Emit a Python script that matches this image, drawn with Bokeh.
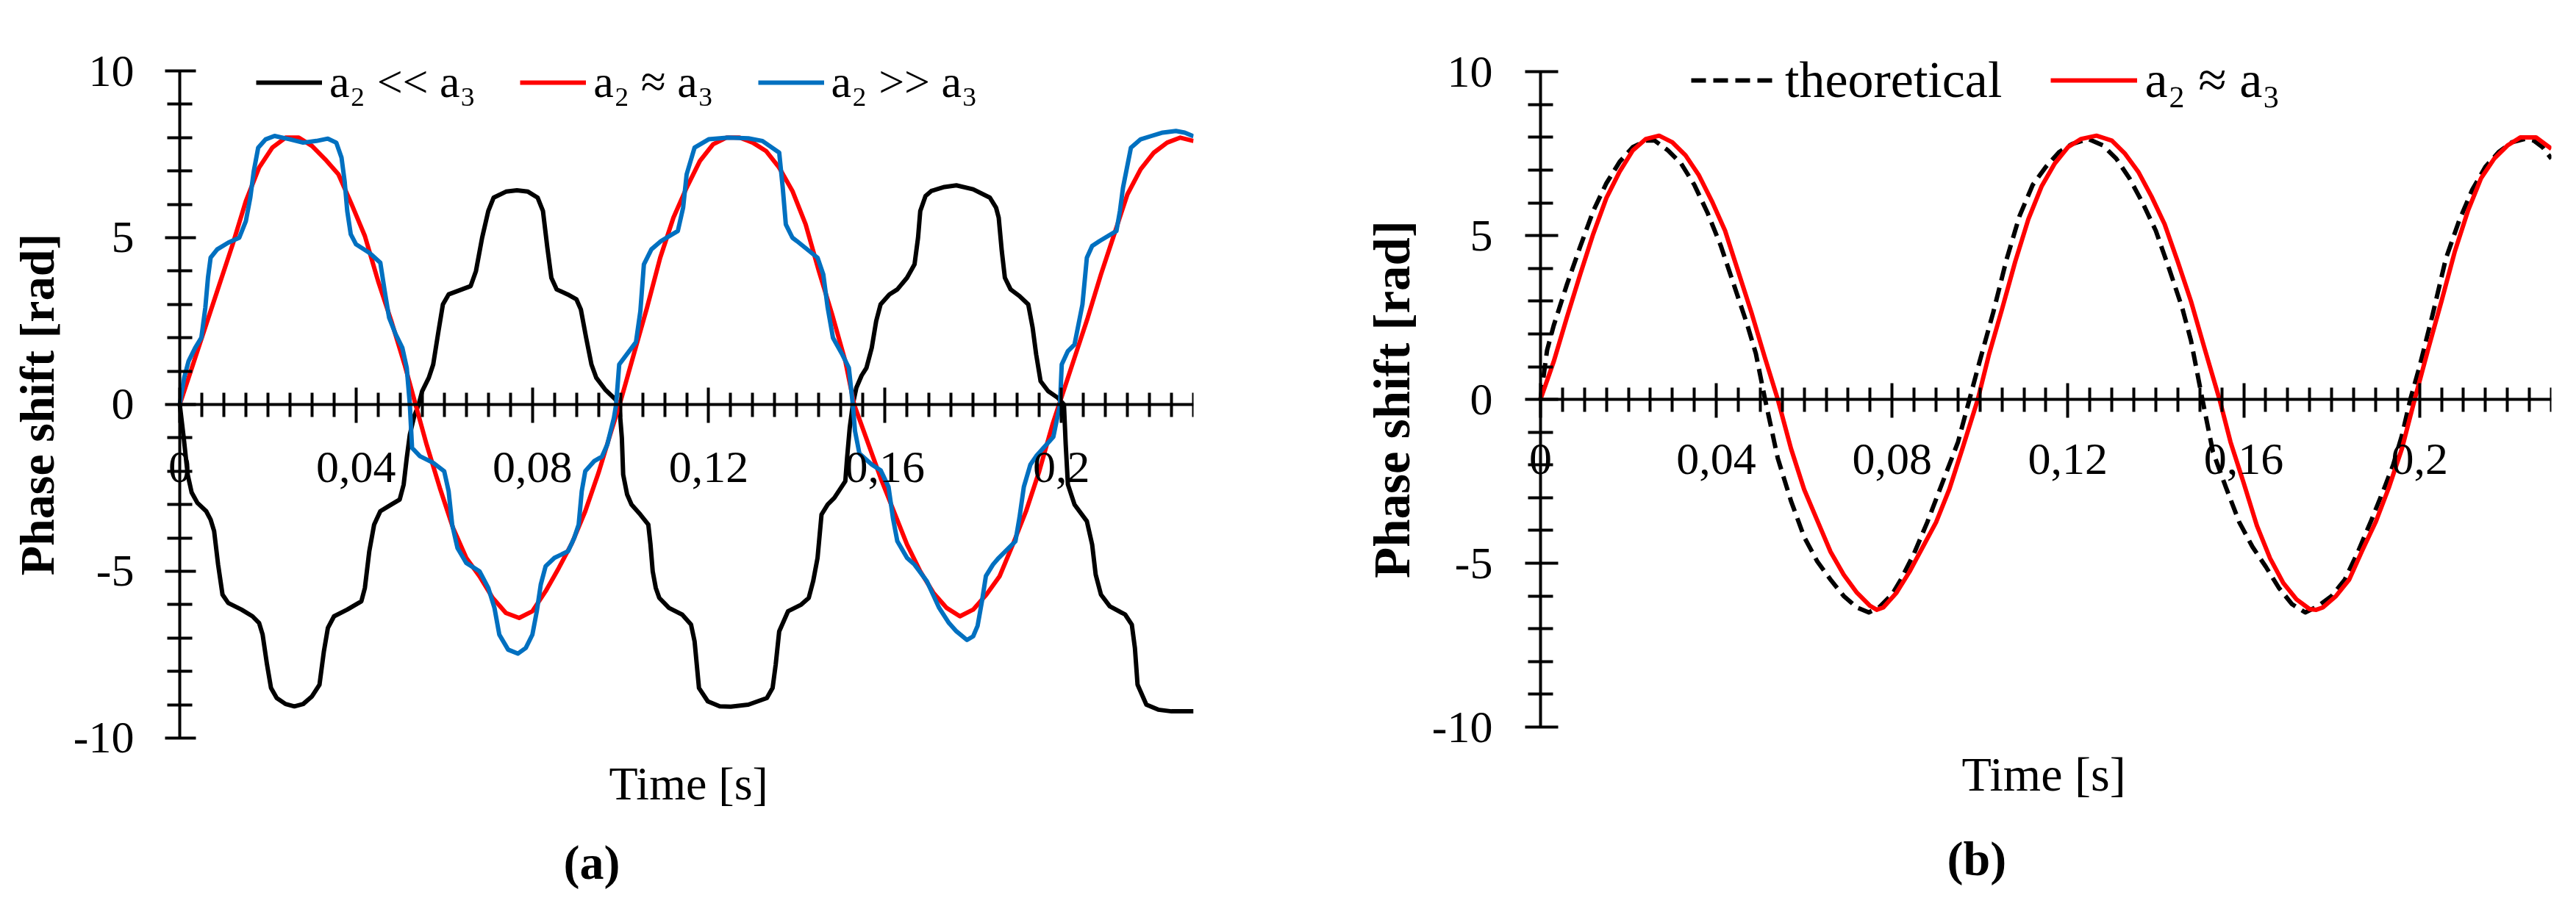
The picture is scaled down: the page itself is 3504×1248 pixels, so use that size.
from bokeh.plotting import figure
from bokeh.models import (Range1d, FixedTicker, CustomJSTickFormatter,
                          Legend, LegendItem, Title)
from bokeh.layouts import row
from bokeh.embed import file_html
from bokeh.resources import INLINE

FONT = "Liberation Serif"

# ---------------- ticks ----------------
x_major = [0, 0.04, 0.08, 0.12, 0.16, 0.2]
x_minor = [0.005, 0.01, 0.015, 0.02, 0.025, 0.03, 0.035, 0.045, 0.05, 0.055, 0.06,
           0.065, 0.07, 0.075, 0.085, 0.09, 0.095, 0.1, 0.105, 0.11, 0.115, 0.125,
           0.13, 0.135, 0.14, 0.145, 0.15, 0.155, 0.165, 0.17, 0.175, 0.18, 0.185,
           0.19, 0.195, 0.205, 0.21, 0.215, 0.22, 0.225, 0.23]
y_major = [-10, -5, 0, 5, 10]
y_minor = [-9, -8, -7, -6, -4, -3, -2, -1, 1, 2, 3, 4, 6, 7, 8, 9]

# ---------------- panel (a) data ----------------
# a2 << a3 (black)
t_low = [0.0, 0.0009, 0.0018, 0.0027, 0.004, 0.006, 0.007, 0.0078, 0.0087, 0.0097,
         0.011, 0.014, 0.0165, 0.018, 0.0188, 0.0198, 0.0207, 0.022, 0.024, 0.026,
         0.028, 0.030, 0.0317, 0.0327, 0.0336, 0.035, 0.038, 0.0412, 0.042, 0.043,
         0.0441, 0.0455, 0.048, 0.0499, 0.0508, 0.0515, 0.0522, 0.0532, 0.0542,
         0.055, 0.0565, 0.0575, 0.0587, 0.0597, 0.061, 0.064, 0.066, 0.0672, 0.0686,
         0.07, 0.0712, 0.074, 0.0765, 0.079, 0.0812, 0.0824, 0.0834, 0.0843, 0.0855,
         0.088, 0.09, 0.091, 0.0922, 0.0934, 0.0945, 0.0965, 0.0987, 0.0997,
         0.1003, 0.1006, 0.1015, 0.1025, 0.1045, 0.1063, 0.1068, 0.1073, 0.108, 0.1088,
         0.111, 0.114, 0.116, 0.1168, 0.1178, 0.1198, 0.1225, 0.125, 0.129, 0.1332,
         0.1345, 0.1352, 0.136, 0.138, 0.141, 0.1427, 0.1437, 0.1447, 0.1456, 0.147,
         0.1485, 0.151, 0.1514, 0.152, 0.1527,
         0.1535, 0.1547, 0.1558, 0.157, 0.158, 0.159, 0.161, 0.1628, 0.165, 0.1667,
         0.1675, 0.168, 0.1692, 0.1705, 0.1735, 0.1762, 0.18, 0.1838, 0.1852, 0.1858,
         0.1865, 0.1872, 0.1885, 0.1905, 0.1925, 0.1935, 0.1943, 0.1953, 0.197, 0.1992,
         0.2006,
         0.201, 0.2015, 0.203, 0.2058, 0.207, 0.2078, 0.209, 0.211, 0.2145, 0.216,
         0.2167, 0.2173, 0.2193, 0.222, 0.225, 0.228, 0.23]
v_low = [0.0, -1.0, -2.1, -2.64, -2.95, -3.2, -3.45, -3.8, -4.8, -5.7,
         -5.95, -6.15, -6.35, -6.55, -6.9, -7.8, -8.5, -8.8, -8.98, -9.05,
         -8.98, -8.75, -8.4, -7.4, -6.7, -6.35, -6.15, -5.9, -5.5, -4.4,
         -3.6, -3.2, -3.0, -2.85, -2.4, -1.6, -0.9, -0.35, 0.0,
         0.4, 0.8, 1.2, 2.2, 3.0, 3.3, 3.45, 3.55, 4.0, 5.0,
         5.8, 6.2, 6.38, 6.42, 6.38, 6.2, 5.8, 4.7, 3.8, 3.45,
         3.3, 3.15, 2.85, 2.0, 1.2, 0.8, 0.45, 0.17, 0.0,
         -1.0, -2.1, -2.7, -3.0, -3.3, -3.6, -4.2, -5.0, -5.5, -5.8,
         -6.1, -6.3, -6.6, -7.1, -8.5, -8.9, -9.05, -9.06, -9.0, -8.8,
         -8.5, -7.8, -6.8, -6.2, -6.0, -5.8, -5.3, -4.6, -3.3, -3.0,
         -2.8, -2.3, -1.6, -0.7, 0.0,
         0.5, 0.87, 1.1, 1.7, 2.5, 3.0, 3.3, 3.45, 3.8, 4.2,
         5.0, 5.8, 6.25, 6.4, 6.52, 6.57, 6.45, 6.2, 5.9, 5.6,
         4.6, 3.8, 3.45, 3.25, 3.0, 2.3, 1.5, 0.7, 0.4, 0.2,
         0.0,
         -1.2, -2.4, -3.0, -3.5, -4.2, -5.1, -5.7, -6.05, -6.3, -6.6,
         -7.3, -8.4, -9.0, -9.15, -9.2, -9.2, -9.2]

# a2 ~ a3 (red)
t_eq = [0.0, 0.003, 0.006, 0.009, 0.012, 0.015, 0.018, 0.021, 0.024, 0.027,
        0.030, 0.033, 0.036, 0.039, 0.042, 0.045, 0.048, 0.051, 0.0535, 0.056,
        0.059, 0.062, 0.065, 0.068, 0.071, 0.074, 0.077, 0.080, 0.083, 0.086,
        0.089, 0.092, 0.095, 0.098, 0.0998,
        0.103, 0.106, 0.109, 0.112, 0.115, 0.118, 0.121, 0.124, 0.127, 0.130,
        0.133, 0.136, 0.139, 0.142, 0.145, 0.148, 0.151, 0.153, 0.156, 0.159,
        0.162, 0.165, 0.168, 0.171, 0.174, 0.177, 0.180, 0.183, 0.186, 0.189,
        0.192, 0.195, 0.198, 0.1995,
        0.203, 0.206, 0.209, 0.212, 0.215, 0.218, 0.221, 0.224, 0.227, 0.230]
v_eq = [0.0, 1.2, 2.4, 3.6, 4.8, 6.1, 7.1, 7.7, 8.0, 8.0,
        7.75, 7.35, 6.9, 6.0, 5.05, 3.7, 2.5, 1.2, 0.0, -1.2,
        -2.5, -3.7, -4.6, -5.15, -5.8, -6.25, -6.4, -6.2, -5.6, -4.9,
        -4.15, -3.2, -2.05, -0.75, 0.0,
        1.5, 2.9, 4.4, 5.6, 6.5, 7.3, 7.8, 8.0, 8.0, 7.85,
        7.6, 7.1, 6.4, 5.4, 4.0, 2.7, 1.3, 0.0, -1.1, -2.2,
        -3.2, -4.2, -5.0, -5.65, -6.1, -6.35, -6.15, -5.7, -5.15, -4.2,
        -3.2, -2.0, -0.6, 0.0,
        1.4, 2.6, 3.9, 5.1, 6.3, 7.05, 7.55, 7.85, 8.0, 7.9]

# a2 >> a3 (blue)
t_high = [0.0, 0.001, 0.002, 0.0035, 0.0049, 0.0058, 0.0064, 0.007, 0.0085, 0.011,
          0.0135, 0.015, 0.016, 0.0168, 0.0178, 0.0195, 0.0215, 0.025, 0.028, 0.031,
          0.0336, 0.0355, 0.0367, 0.0374, 0.038, 0.0388, 0.04, 0.043, 0.0455, 0.0465,
          0.0475, 0.049, 0.0505, 0.0515, 0.0522,
          0.0527, 0.0545, 0.0575, 0.06, 0.061, 0.0618, 0.063, 0.065, 0.068, 0.07,
          0.0714, 0.0725, 0.0745, 0.0767, 0.0785, 0.08, 0.081, 0.0819, 0.083, 0.085,
          0.0881, 0.0895, 0.0905, 0.0912, 0.092, 0.094, 0.0958, 0.097, 0.0985, 0.099,
          0.0997, 0.1035, 0.1045, 0.1053, 0.107, 0.1092, 0.113, 0.1142, 0.115, 0.1168,
          0.12, 0.1245, 0.129, 0.1322, 0.136, 0.1368, 0.1375, 0.139, 0.14, 0.1447,
          0.146, 0.147, 0.1482, 0.1503, 0.1518, 0.1527,
          0.1532, 0.1542, 0.157, 0.159, 0.1608, 0.1618, 0.1628, 0.165, 0.1667, 0.1695,
          0.1723, 0.1745, 0.1762, 0.1786, 0.18, 0.181, 0.182, 0.1829, 0.1845, 0.1858,
          0.1896, 0.1905, 0.1915, 0.193, 0.1943, 0.1982, 0.1997,
          0.2001, 0.2015, 0.203, 0.2048, 0.2058, 0.207, 0.2087, 0.2125, 0.2133, 0.214,
          0.2158, 0.218, 0.2202, 0.223, 0.226, 0.228, 0.23]
v_high = [0.0, 0.8, 1.3, 1.7, 2.0, 2.9, 3.8, 4.4, 4.65, 4.85,
          5.0, 5.5, 6.2, 7.0, 7.7, 7.95, 8.05, 7.95, 7.85, 7.9,
          7.97, 7.85, 7.4, 6.7, 5.8, 5.1, 4.8, 4.55, 4.25, 3.4,
          2.6, 2.1, 1.7, 1.1, 0.0,
          -1.3, -1.55, -1.75, -2.0, -2.6, -3.6, -4.3, -4.75, -5.0, -5.5,
          -6.1, -6.9, -7.35, -7.47, -7.3, -6.9, -6.2, -5.4, -4.85, -4.6,
          -4.4, -4.0, -3.6, -2.6, -2.0, -1.7, -1.56, -1.2, -0.4, 0.0,
          1.2, 1.87, 2.8, 4.2, 4.65, 4.9, 5.2, 5.9, 6.9, 7.7,
          7.95, 8.0, 7.98, 7.9, 7.55, 6.5, 5.4, 5.0, 4.9, 4.4,
          3.9, 2.9, 2.0, 1.5, 1.1, 0.0,
          -0.8, -1.47, -1.8, -1.97, -2.47, -3.4, -4.1, -4.6, -4.8, -5.3,
          -6.1, -6.55, -6.8, -7.06, -6.95, -6.64, -5.9, -5.14, -4.8, -4.6,
          -4.1, -3.4, -2.47, -1.8, -1.55, -0.97, 0.0,
          1.2, 1.6, 1.8, 3.0, 4.4, 4.75, 4.9, 5.2, 5.8, 6.5,
          7.7, 7.95, 8.04, 8.15, 8.2, 8.15, 8.04]

# ---------------- panel (b) data ----------------
# theoretical (black dashed)
t_theo = [0.0, 0.0015, 0.003, 0.006, 0.009, 0.012, 0.015, 0.018, 0.021, 0.024,
          0.026, 0.029, 0.032, 0.035, 0.038, 0.041, 0.044, 0.047, 0.049, 0.0511,
          0.054, 0.057, 0.060, 0.063, 0.066, 0.069, 0.072, 0.0747, 0.077, 0.080,
          0.082, 0.085, 0.088, 0.091, 0.093, 0.095, 0.0976,
          0.100, 0.103, 0.106, 0.109, 0.112, 0.115, 0.118, 0.121, 0.1246, 0.128,
          0.131, 0.134, 0.137, 0.140, 0.143, 0.146, 0.148, 0.1506, 0.153, 0.156,
          0.159, 0.162, 0.165, 0.168, 0.171, 0.174, 0.177, 0.180, 0.183, 0.186,
          0.189, 0.192, 0.194, 0.196, 0.1979,
          0.200, 0.203, 0.206, 0.209, 0.212, 0.215, 0.218, 0.221, 0.224, 0.226,
          0.228, 0.230]
v_theo = [0.0, 1.5, 2.25, 3.5, 4.65, 5.75, 6.6, 7.25, 7.7, 7.9,
          7.9, 7.6, 7.2, 6.55, 5.7, 4.7, 3.5, 2.3, 1.4, 0.0,
          -1.8, -3.1, -4.2, -4.95, -5.5, -6.0, -6.35, -6.5, -6.35, -5.95,
          -5.5, -4.7, -3.75, -2.7, -2.0, -1.3, 0.0,
          1.2, 2.65, 4.25, 5.6, 6.55, 7.1, 7.55, 7.8, 7.95, 7.75,
          7.35, 6.75, 6.0, 5.15, 4.0, 2.8, 1.8, 0.0, -1.6, -2.7,
          -3.75, -4.5, -5.1, -5.75, -6.25, -6.5, -6.3, -6.0, -5.5, -4.65,
          -3.7, -2.7, -2.0, -1.1, 0.0,
          1.0, 2.6, 4.3, 5.45, 6.4, 7.1, 7.55, 7.85, 7.95, 7.9,
          7.7, 7.35]

# a2 ~ a3 (red) in panel (b)
t_eq_b = [0.0, 0.003, 0.006, 0.009, 0.012, 0.015, 0.018, 0.021, 0.024, 0.027,
          0.030, 0.033, 0.036, 0.039, 0.042, 0.045, 0.048, 0.051, 0.054, 0.057,
          0.060, 0.063, 0.066, 0.069, 0.072, 0.075, 0.0765, 0.078, 0.081, 0.084,
          0.087, 0.090, 0.093, 0.096, 0.0995,
          0.102, 0.105, 0.108, 0.111, 0.114, 0.117, 0.120, 0.123, 0.1265, 0.130,
          0.133, 0.136, 0.139, 0.142, 0.145, 0.148, 0.151, 0.1545, 0.157, 0.160,
          0.163, 0.166, 0.169, 0.172, 0.175, 0.1765, 0.178, 0.181, 0.184, 0.187,
          0.190, 0.193, 0.196, 0.1989,
          0.202, 0.205, 0.208, 0.211, 0.214, 0.217, 0.220, 0.223, 0.2265, 0.230]
v_eq_b = [0.0, 1.15, 2.5, 3.8, 5.05, 6.15, 6.95, 7.6, 7.95, 8.05,
          7.85, 7.45, 6.85, 6.05, 5.15, 3.9, 2.65, 1.3, 0.0, -1.5,
          -2.75, -3.7, -4.65, -5.35, -5.9, -6.3, -6.42, -6.35, -5.9, -5.25,
          -4.5, -3.75, -2.75, -1.5, 0.0,
          1.35, 2.75, 4.2, 5.5, 6.5, 7.2, 7.7, 7.95, 8.05, 7.9,
          7.5, 6.95, 6.2, 5.35, 4.2, 3.0, 1.6, 0.0, -1.3, -2.55,
          -3.85, -4.85, -5.6, -6.1, -6.4, -6.42, -6.35, -6.0, -5.5, -4.6,
          -3.75, -2.7, -1.5, 0.0,
          1.55, 3.0, 4.5, 5.75, 6.75, 7.35, 7.75, 8.0, 8.0, 7.65]

BLACK = "#000000"
RED = "#FF0000"
BLUE = "#0070C0"

XCODE = r"""
var s = tick.toFixed(2);
s = s.replace(/0+$/, '').replace(/\.$/, '');
return s.replace('.', ',');
"""
YCODE = "return tick.toFixed(0);"


def build(cfg, series):
    p = figure(x_range=Range1d(cfg["x0"], 0.23), y_range=Range1d(cfg["y0"], cfg["y1"]),
               frame_width=cfg["fw"], frame_height=cfg["fh"],
               min_border_left=0, min_border_right=cfg["br"],
               min_border_top=cfg["bt"], min_border_bottom=cfg["bb"],
               output_backend="svg", toolbar_location=None,
               background_fill_color="white", border_fill_color="white")
    p.outline_line_color = None
    p.xgrid.visible = False
    p.ygrid.visible = False

    # x axis crossing at y = 0
    xa = p.xaxis[0]
    xa.fixed_location = 0
    xa.bounds = (0, 0.23)
    xa.ticker = FixedTicker(ticks=x_major, minor_ticks=x_minor)
    xa.formatter = CustomJSTickFormatter(code=XCODE)
    xa.axis_line_width = 4
    xa.axis_line_color = BLACK
    xa.major_tick_line_width = 4
    xa.minor_tick_line_width = 4
    xa.major_tick_line_color = BLACK
    xa.minor_tick_line_color = BLACK
    xa.major_tick_in = cfg["x_in"]
    xa.major_tick_out = 25
    xa.minor_tick_in = 16
    xa.minor_tick_out = 17
    xa.major_label_standoff = cfg["x_ls"]
    xa.major_label_text_font = FONT
    xa.major_label_text_font_size = cfg["tick_fs"]
    xa.major_label_text_color = BLACK
    xa.axis_label = None

    # y axis crossing at t = 0
    ya = p.yaxis[0]
    ya.fixed_location = 0
    ya.bounds = (-10, 10)
    ya.ticker = FixedTicker(ticks=y_major, minor_ticks=y_minor)
    ya.formatter = CustomJSTickFormatter(code=YCODE)
    ya.axis_line_width = 4
    ya.axis_line_color = BLACK
    ya.major_tick_line_width = 4
    ya.minor_tick_line_width = 4
    ya.major_tick_line_color = BLACK
    ya.minor_tick_line_color = BLACK
    ya.major_tick_in = cfg["y_in"]
    ya.major_tick_out = cfg["y_out"]
    ya.minor_tick_in = 17
    ya.minor_tick_out = 17
    ya.major_label_standoff = cfg["y_ls"]
    ya.major_label_text_font = FONT
    ya.major_label_text_font_size = cfg["tick_fs"]
    ya.major_label_text_color = BLACK
    ya.axis_label = "Phase shift [rad]"
    ya.axis_label_text_font = FONT
    ya.axis_label_text_font_style = "bold"
    ya.axis_label_text_font_size = cfg["ylab_fs"]
    ya.axis_label_text_color = BLACK
    ya.axis_label_standoff = cfg["ylab_so"]

    items = []
    for t, v, color, dash, lab in series:
        r = p.line(t, v, line_color=color, line_width=6, line_dash=dash,
                   line_join="round")
        items.append(LegendItem(label=lab, renderers=[r]))

    leg = Legend(items=items, orientation="horizontal", location=cfg["leg_loc"],
                 background_fill_alpha=0, border_line_color=None,
                 padding=0, margin=0, spacing=cfg["leg_sp"], label_standoff=10,
                 glyph_width=cfg["leg_gw"], glyph_height=20, label_height=20,
                 label_text_font=FONT, label_text_font_size=cfg["leg_fs"],
                 label_text_color=BLACK)
    p.add_layout(leg)

    # x-axis title below the plot, centred under the 0..0.23 axis
    p.add_layout(Title(text="Time [s]", align="left", offset=cfg["xt_off"],
                       standoff=cfg["xt_so"], text_font=FONT,
                       text_font_size=cfg["xlab_fs"], text_font_style="normal",
                       text_color=BLACK), "below")
    # panel letter
    p.add_layout(Title(text=cfg["panel"], align="left", offset=cfg["pl_off"],
                       standoff=cfg["pl_so"], text_font=FONT,
                       text_font_size="66px", text_font_style="bold",
                       text_color=BLACK), "below")
    return p


# panel (a): t=0 at page x 252, 5996 px/s; y=0 at page 554, 45.4 px/unit
cfg_a = dict(x0=-0.0407, y0=-10.53, y1=11.3, fw=1623, fh=991, br=121, bt=33, bb=208,
             x_in=23, x_ls=41, y_in=22, y_out=20, y_ls=42, tick_fs="62px",
             ylab_fs="66px", ylab_so=10, xlab_fs="64px", xt_off=828, xt_so=0,
             leg_loc=(348, 881), leg_sp=60, leg_gw=90, leg_fs="62px",
             pl_off=766, pl_so=66, panel="(a)")
# panel (b): t=0 at page x 2103, 5978 px/s; y=0 at page 551, 44.6 px/unit
cfg_b = dict(x0=-0.0587, y0=-10.56, y1=11.35, fw=1726, fh=977, br=14, bt=37, bb=218,
             x_in=22, x_ls=36, y_in=24, y_out=21, y_ls=44, tick_fs="62px",
             ylab_fs="69px", ylab_so=13, xlab_fs="66px", xt_off=924, xt_so=0,
             leg_loc=(556, 865), leg_sp=66, leg_gw=118, leg_fs="70px",
             pl_off=904, pl_so=80, panel="(b)")

pa = build(cfg_a, [
    (t_low, v_low, BLACK, "solid", "a\u2082 << a\u2083"),
    (t_eq, v_eq, RED, "solid", "a\u2082 \u2248 a\u2083"),
    (t_high, v_high, BLUE, "solid", "a\u2082 >> a\u2083"),
])
pb = build(cfg_b, [
    (t_theo, v_theo, BLACK, "20 10", "theoretical"),
    (t_eq_b, v_eq_b, RED, "solid", "a\u2082 \u2248 a\u2083"),
])

layout = row(pa, pb)
open("out.html", "w").write(file_html(layout, INLINE))
